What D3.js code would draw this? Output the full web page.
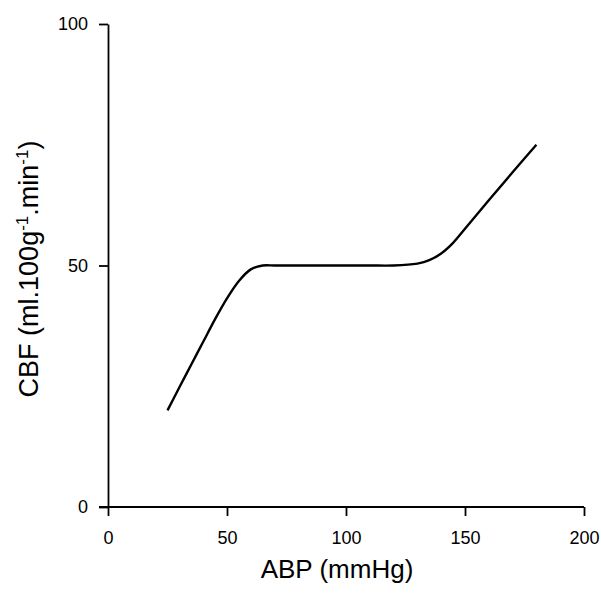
<!DOCTYPE html>
<html>
<head>
<meta charset="utf-8">
<script src="https://cdn.jsdelivr.net/npm/d3@7"></script>
<style>
  body { margin: 0; background: #fff; }
  svg { display: block; font-family: "Liberation Sans", Arial, sans-serif; }
</style>
</head>
<body>
<div id="box"></div>
<script>
  var width = 601;
  var height = 594;

  // autoregulation curve
  var abp = [25, 30, 35, 40, 45, 50, 55, 60, 65, 70, 80, 90, 100, 110, 120, 130, 135, 140, 145, 150, 160, 170, 180];
  var cbf = [20, 24.8, 29.5, 34.2, 38.9, 43.2, 46.8, 49.2, 50, 50, 50, 50, 50, 50, 50, 50.4, 51.1, 52.5, 54.7, 57.6, 63.5, 69.3, 75];
  var xTicks = [0, 50, 100, 150, 200];
  var yTicks = [0, 50, 100];

  var svg = d3.select("#box").append("svg")
    .attr("width", width)
    .attr("height", height);

  var x = d3.scaleLinear().domain([0, 200]).range([108, 584]);
  var y = d3.scaleLinear().domain([0, 100]).range([507, 24]);

  // x axis
  var xAxis = svg.append("g")
    .attr("transform", "translate(0," + y(0) + ")")
    .call(d3.axisBottom(x).tickValues(xTicks).tickSize(9).tickSizeOuter(0).tickPadding(15));
  xAxis.select(".domain").attr("d", "M" + (x(0) - 9) + ",0H" + x(200));

  // y axis
  var yAxis = svg.append("g")
    .attr("transform", "translate(" + x(0) + ",0)")
    .call(d3.axisLeft(y).tickValues(yTicks).tickSize(9).tickSizeOuter(0).tickPadding(11));

  svg.selectAll(".domain, .tick line")
    .attr("stroke", "#000")
    .attr("stroke-width", 1.8);
  svg.selectAll(".tick text")
    .attr("font-size", 18)
    .attr("font-family", "'Liberation Sans', Arial, sans-serif")
    .attr("fill", "#000");

  // the curve
  var pts = abp.map(function(d, i) { return [d, cbf[i]]; });
  var line = d3.line()
    .x(function(d) { return x(d[0]); })
    .y(function(d) { return y(d[1]); })
    .curve(d3.curveCatmullRom);

  svg.append("path")
    .datum(pts)
    .attr("d", line)
    .attr("fill", "none")
    .attr("stroke", "#000")
    .attr("stroke-width", 2.4);

  // axis titles
  svg.append("text")
    .attr("x", 337)
    .attr("y", 578)
    .attr("text-anchor", "middle")
    .attr("font-size", 26)
    .text("ABP (mmHg)");

  var yt = svg.append("text")
    .attr("transform", "translate(38,269) rotate(-90)")
    .attr("text-anchor", "middle")
    .attr("font-size", 27);
  yt.append("tspan").text("CBF (ml.100g");
  yt.append("tspan").attr("font-size", 17).attr("dy", -10).text("-1");
  yt.append("tspan").attr("dy", 10).text(".min");
  yt.append("tspan").attr("font-size", 17).attr("dy", -10).text("-1");
  yt.append("tspan").attr("dy", 10).text(")");
</script>
</body>
</html>
